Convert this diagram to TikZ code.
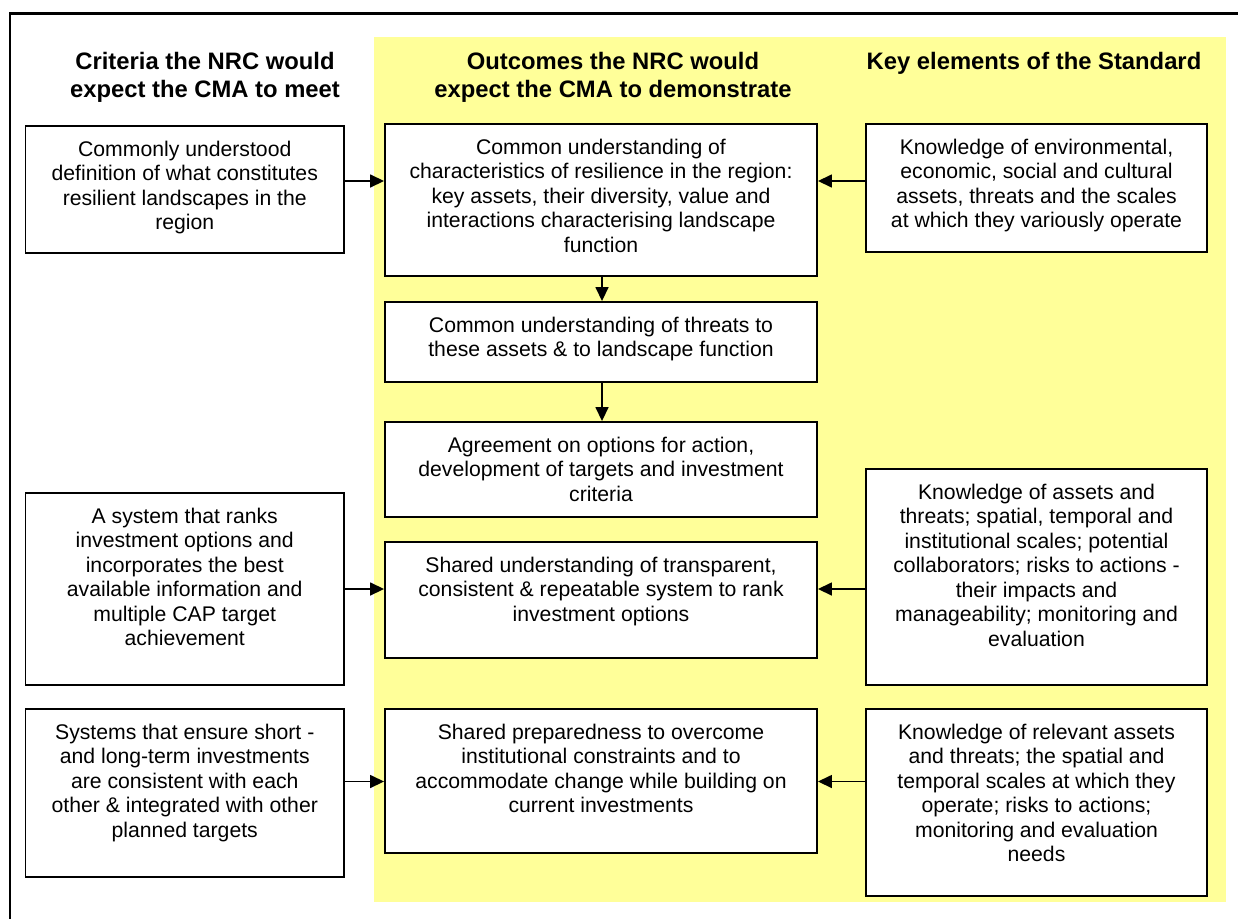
\documentclass[tikz,border=0pt]{standalone}
\usepackage{fontspec}
\setmainfont{Liberation Sans}
\usetikzlibrary{arrows.meta,calc}
\definecolor{bgyellow}{HTML}{FFFF99}
\begin{document}
\begin{tikzpicture}[x=1pt,y=-1pt,
  bx/.style={draw, line width=1.9pt, fill=white, inner sep=0pt},
  tx/.style={anchor=north, align=center, inner sep=0pt, font=\fontsize{21.2pt}{24.5pt}\selectfont},
  hd/.style={anchor=north, align=center, inner sep=0pt, font=\fontsize{23.8pt}{28pt}\selectfont\bfseries},
  arr/.style={line width=1.6pt, -{Triangle[length=14pt,width=13pt]}}]
\useasboundingbox (0,0) rectangle (1238,918);
\clip (0,0) rectangle (1238,918);
\fill[white] (0,0) rectangle (1238,918);
% outer frame (right and bottom lie beyond the picture)
\draw[line width=2.4pt] (10,13.5) rectangle (1260,940);
% yellow band
\fill[bgyellow] (374,37) rectangle (1226,902);
% headings
\node[hd] (h1) at (205,50) {\rule{0pt}{19pt}Criteria the NRC would\\expect the CMA to meet};
\node[hd] (h2) at (613,50) {\rule{0pt}{19pt}Outcomes the NRC would\\expect the CMA to demonstrate};
\node[hd] (h3) at (1034,50) {\rule{0pt}{19pt}Key elements of the Standard};
% boxes
\node[bx, minimum width=318.5pt, minimum height=127pt] (l1) at (184.75,189.5) {};
\node[bx, minimum width=432pt, minimum height=152pt] (c1) at (601,200) {};
\node[bx, minimum width=341pt, minimum height=128pt] (r1) at (1036.5,188) {};
\node[bx, minimum width=432pt, minimum height=80pt] (c2) at (601,342) {};
\node[bx, minimum width=432pt, minimum height=95pt] (c3) at (601,469.5) {};
\node[bx, minimum width=318.5pt, minimum height=192pt] (l2) at (184.75,589) {};
\node[bx, minimum width=432pt, minimum height=116pt] (c4) at (601,600) {};
\node[bx, minimum width=341pt, minimum height=216pt] (r2) at (1036.5,577) {};
\node[bx, minimum width=318.5pt, minimum height=168pt] (l3) at (184.75,793) {};
\node[bx, minimum width=432pt, minimum height=144pt] (c5) at (601,781) {};
\node[bx, minimum width=341pt, minimum height=187pt] (r3) at (1036.5,802.5) {};
% texts
\node[tx] (tl1) at ([yshift=-14pt]l1.north) {\rule{0pt}{17pt}Commonly understood\\definition of what constitutes\\resilient landscapes in the\\region};
\node[tx] (tc1) at ([yshift=-14pt]c1.north) {\rule{0pt}{17pt}Common understanding of\\characteristics of resilience in the region:\\key assets, their diversity, value and\\interactions characterising landscape\\function};
\node[tx] (tr1) at ([yshift=-14pt]r1.north) {\rule{0pt}{17pt}Knowledge of environmental,\\economic, social and cultural\\assets, threats and the scales\\at which they variously operate};
\node[tx] (tc2) at ([yshift=-14pt]c2.north) {\rule{0pt}{17pt}Common understanding of threats to\\these assets \& to landscape function};
\node[tx] (tc3) at ([yshift=-14pt]c3.north) {\rule{0pt}{17pt}Agreement on options for action,\\development of targets and investment\\criteria};
\node[tx] (tl2) at ([yshift=-14pt]l2.north) {\rule{0pt}{17pt}A system that ranks\\investment options and\\incorporates the best\\available information and\\multiple CAP target\\achievement};
\node[tx] (tc4) at ([yshift=-14pt]c4.north) {\rule{0pt}{17pt}Shared understanding of transparent,\\consistent \& repeatable system to rank\\investment options};
\node[tx] (tr2) at ([yshift=-14pt]r2.north) {\rule{0pt}{17pt}Knowledge of assets and\\threats; spatial, temporal and\\institutional scales; potential\\collaborators; risks to actions -\\their impacts and\\manageability; monitoring and\\evaluation};
\node[tx] (tl3) at ([yshift=-14pt]l3.north) {\rule{0pt}{17pt}Systems that ensure short -\\and long-term investments\\are consistent with each\\other \& integrated with other\\planned targets};
\node[tx] (tc5) at ([yshift=-14pt]c5.north) {\rule{0pt}{17pt}Shared preparedness to overcome\\institutional constraints and to\\accommodate change while building on\\current investments};
\node[tx] (tr3) at ([yshift=-14pt]r3.north) {\rule{0pt}{17pt}Knowledge of relevant assets\\and threats; the spatial and\\temporal scales at which they\\operate; risks to actions;\\monitoring and evaluation\\needs};
% arrow levels
\coordinate (ya) at (0,181);
\coordinate (yb) at (0,589);
\coordinate (yc) at (0,781.5);
% connectors
\draw[arr] (l1.east |- ya) -- (c1.west |- ya);
\draw[arr] (r1.west |- ya) -- (c1.east |- ya);
\draw[arr] ([xshift=1pt]c1.south) -- ([xshift=1pt]c2.north);
\draw[arr] ([xshift=1pt]c2.south) -- ([xshift=1pt]c3.north);
\draw[arr] (l2.east |- yb) -- (c4.west |- yb);
\draw[arr] (r2.west |- yb) -- (c4.east |- yb);
\draw[arr] (l3.east |- yc) -- (c5.west |- yc);
\draw[arr] (r3.west |- yc) -- (c5.east |- yc);
\end{tikzpicture}
\end{document}
